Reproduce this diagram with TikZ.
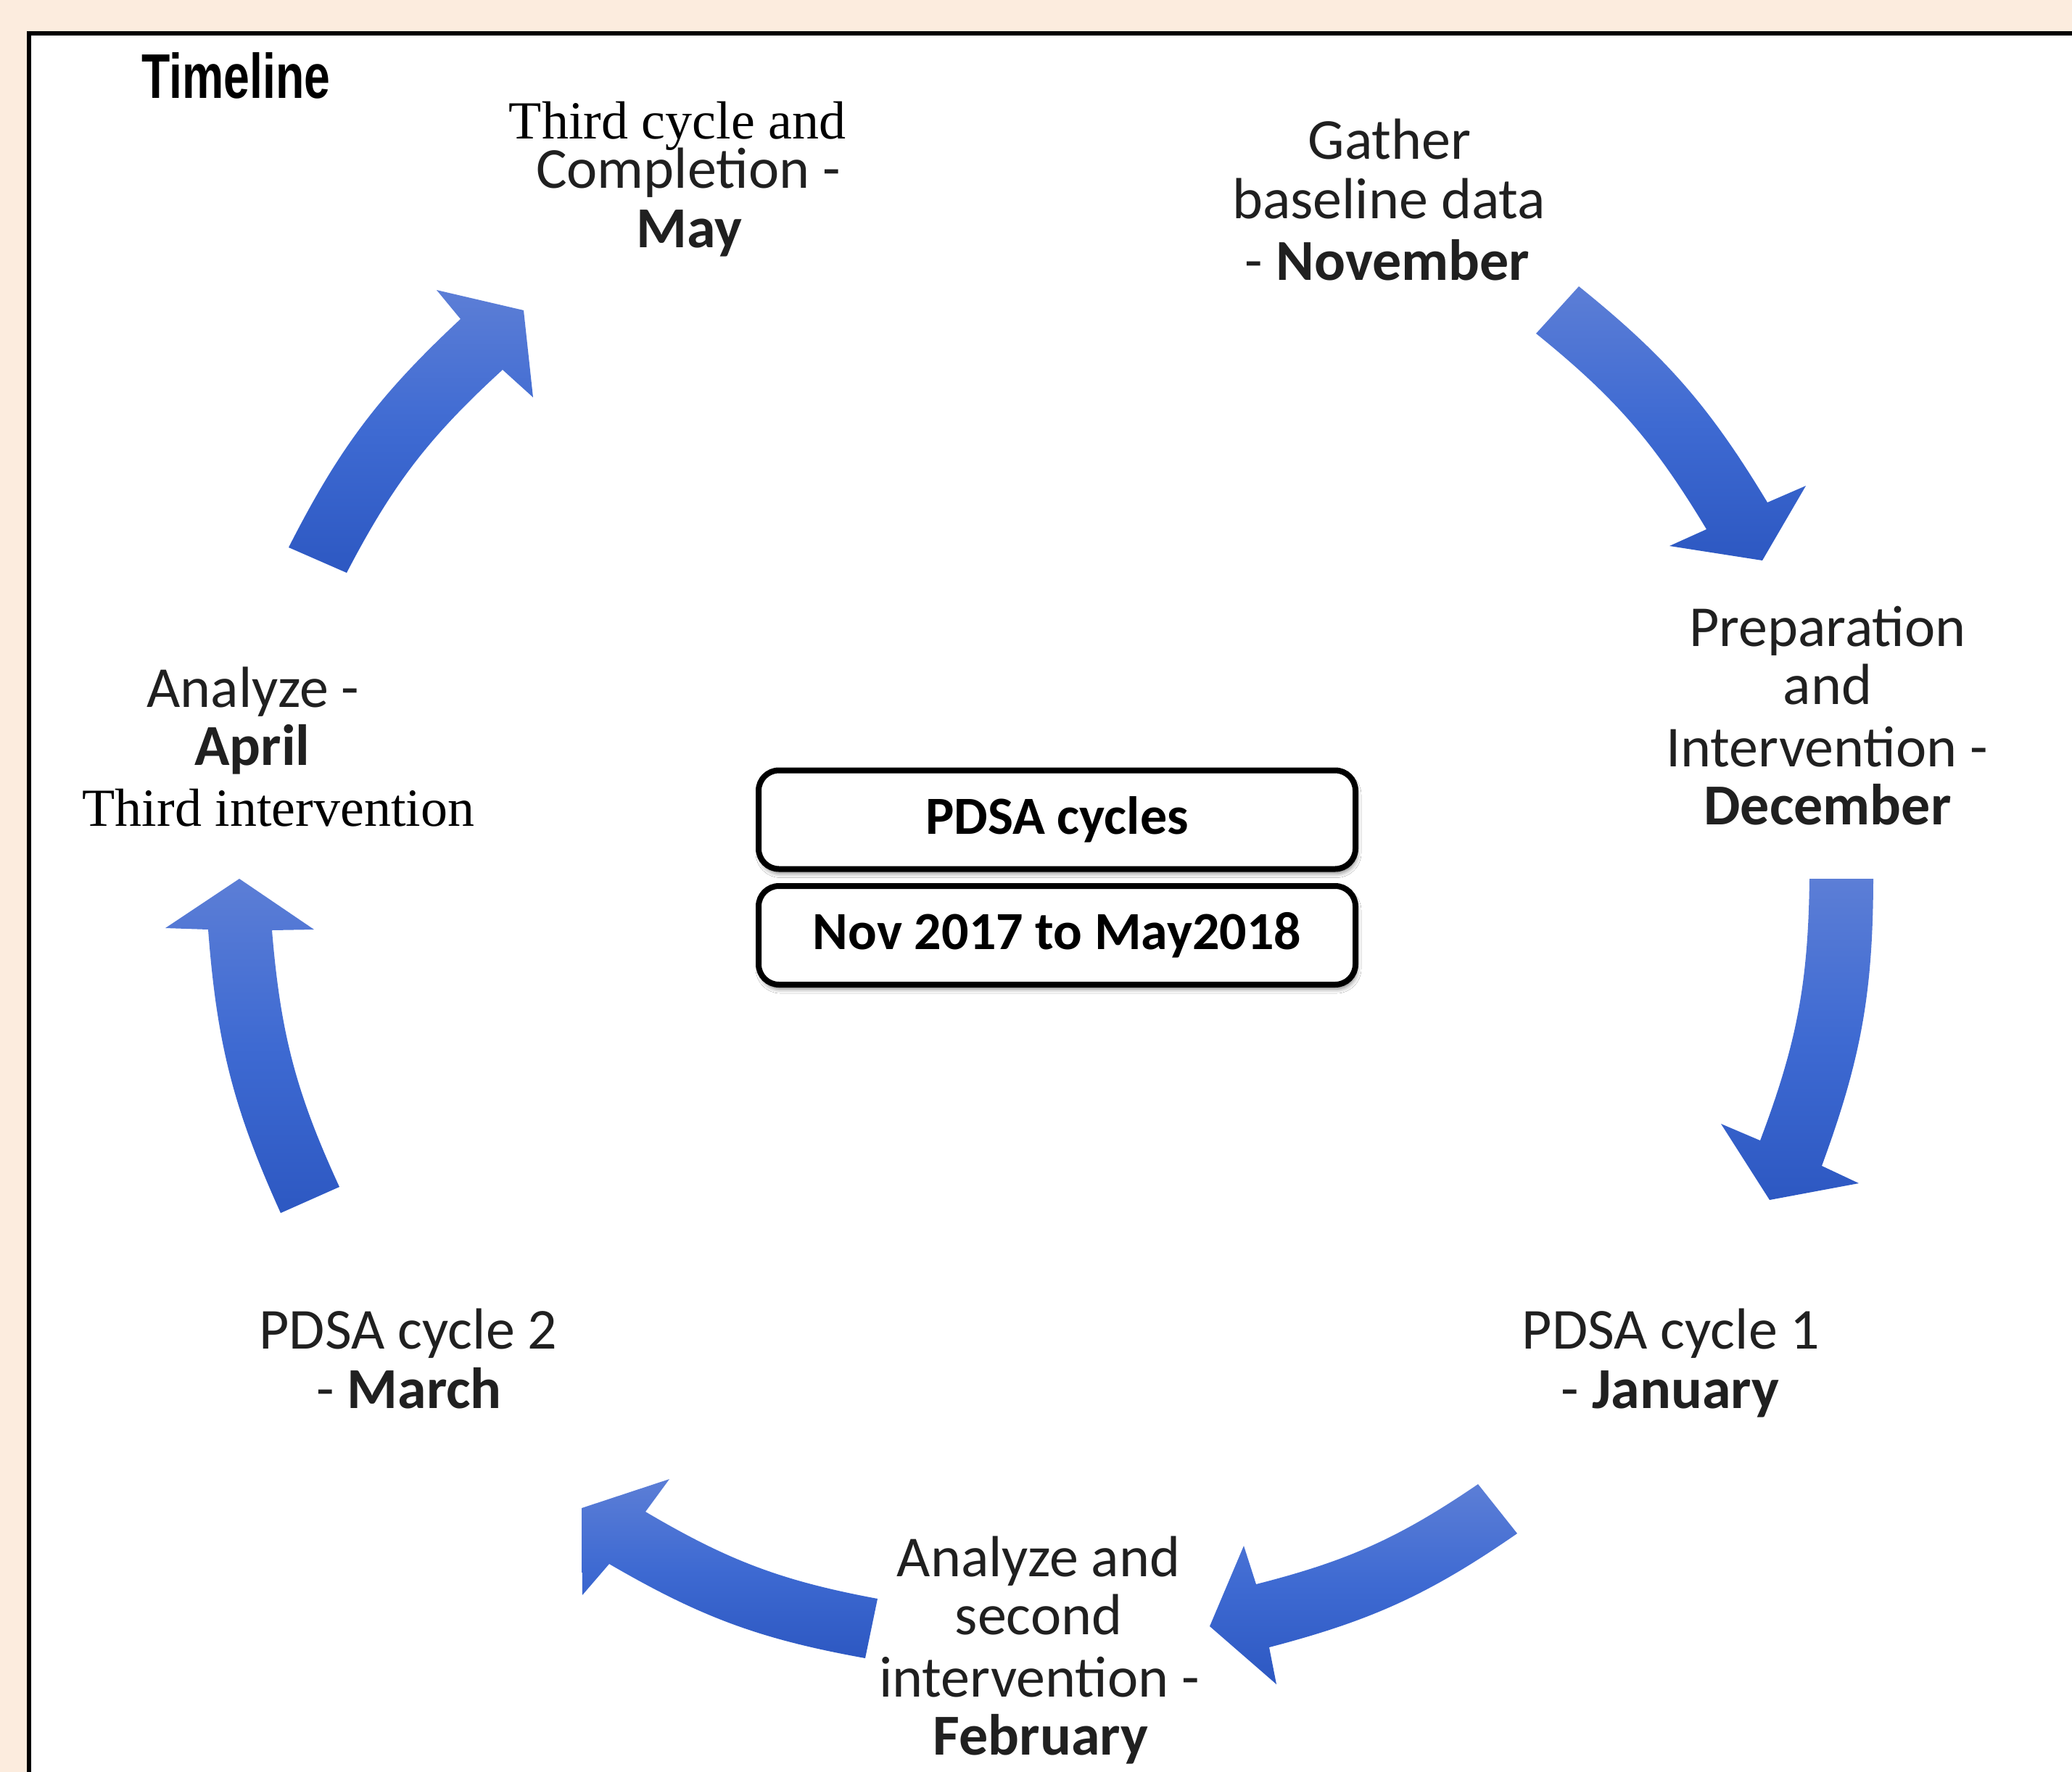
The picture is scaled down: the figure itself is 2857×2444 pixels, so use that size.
\documentclass[tikz,border=0pt]{standalone}
\usepackage{fontspec}
\usepackage{graphicx}
\setmainfont{Carlito}
\newfontfamily\timesf{Liberation Serif}
\newfontfamily\arialf{Liberation Sans}
\usetikzlibrary{shadows.blur}
\definecolor{bgpeach}{RGB}{252,236,222}
\definecolor{arrtop}{RGB}{92,126,214}
\definecolor{arrmid}{RGB}{62,106,210}
\definecolor{arrbot}{RGB}{45,88,194}
\definecolor{txt}{RGB}{32,32,32}
\begin{document}
\begin{tikzpicture}[x=1pt,y=-1pt,
  lbl/.style={anchor=base, inner sep=0, text=txt, font=\fontsize{80}{83}\selectfont},
  lblb/.style={anchor=base, inner sep=0, text=txt, font=\fontsize{80}{83}\selectfont\bfseries},
  tms/.style={anchor=base, inner sep=0, text=black, font=\timesf\fontsize{74}{80}\selectfont},
  arrowfill/.style={top color=arrtop, bottom color=arrbot, middle color=arrmid, draw=none},
  pbox/.style={draw=black, line width=8pt, rounded corners=28pt, fill=white,
    minimum width=823pt, minimum height=136pt, inner sep=0,
    font=\fontsize{74}{80}\selectfont\bfseries,
    blur shadow={shadow xshift=2pt, shadow yshift=-6pt, shadow blur radius=6pt, shadow opacity=50}},
]
\useasboundingbox (0,0) rectangle (2857,2444);
\clip (0,0) rectangle (2857,2444);
\fill[bgpeach] (0,0) rectangle (2857,2444);
\fill[white] (40,46) rectangle (2870,2460);
\draw[line width=6pt] (40,2460) -- (40,46) -- (2870,46);

% title
\node[anchor=base west, inner sep=0] (title) at (195,135)
  {\scalebox{0.74}[1]{\arialf\bfseries\fontsize{87}{87}\selectfont Timeline}};

% centre boxes
\node[pbox] (box1) at (1457.5,1130.5) {PDSA cycles};
\node[pbox] (box2) at (1457.5,1290) {Nov 2017 to May2018};

% labels
\node[tms] (may1) at (934,191) {Third cycle and};
\node[lbl] (may2) at (949,259) {Completion -};
\node[lblb] (may3) at (950,341) {May};

\node[lbl] (nov1) at (1916,219) {Gather};
\node[lbl] (nov2) at (1915,301) {baseline data};
\node[lbl] (nov3) at (1913,386) {- \textbf{November}};

\node[lbl] (dec1) at (2520,891) {Preparation};
\node[lbl] (dec2) at (2520,971) {and};
\node[lbl] (dec3) at (2519,1057) {Intervention -};
\node[lblb] (dec4) at (2520,1137) {December};

\node[lbl] (jan1) at (2304,1860) {PDSA cycle 1};
\node[lbl] (jan2) at (2303,1942) {- \textbf{January}};

\node[lbl] (feb1) at (1432,2174) {Analyze and};
\node[lbl] (feb2) at (1432,2254) {second};
\node[lbl] (feb3) at (1433,2340) {intervention -};
\node[lblb] (feb4) at (1435,2420) {February};

\node[lbl] (mar1) at (563,1860) {PDSA cycle 2};
\node[lbl] (mar2) at (564,1942) {- \textbf{March}};

\node[lbl] (apr1) at (349,975) {Analyze -};
\node[lblb] (apr2) at (348,1055) {April};
\node[tms] (apr3) at (384,1139) {Third intervention};

% arrow 1 (Nov -> Dec)
\coordinate (a1to) at (2177,395);
\coordinate (a1ti) at (2118,460);
\coordinate (a1no) at (2437,693);
\coordinate (a1bo) at (2490,670);
\coordinate (a1tp) at (2430,773);
\coordinate (a1bi) at (2302,753);
\coordinate (a1ni) at (2353,730);
\shade[arrowfill] (a1to) to[bend left=10] (a1no) -- (a1bo) -- (a1tp) -- (a1bi) -- (a1ni) to[bend right=10] (a1ti) -- cycle;

% arrow 2 (Dec -> Jan)
\coordinate (a2to) at (2583,1212);
\coordinate (a2ti) at (2495,1212);
\coordinate (a2no) at (2512,1608);
\coordinate (a2bo) at (2563,1632);
\coordinate (a2tp) at (2440,1655);
\coordinate (a2bi) at (2373,1550);
\coordinate (a2ni) at (2427,1573);
\shade[arrowfill] (a2to) to[bend left=10] (a2no) -- (a2bo) -- (a2tp) -- (a2bi) -- (a2ni) to[bend right=10] (a2ti) -- cycle;

% arrow 3 (Jan -> Feb)
\coordinate (a3to) at (2092,2115);
\coordinate (a3ti) at (2038,2047);
\coordinate (a3no) at (1750,2272);
\coordinate (a3bo) at (1760,2323);
\coordinate (a3tp) at (1668,2243);
\coordinate (a3bi) at (1715,2132);
\coordinate (a3ni) at (1732,2185);
\shade[arrowfill] (a3to) to[bend left=10] (a3no) -- (a3bo) -- (a3tp) -- (a3bi) -- (a3ni) to[bend right=10] (a3ti) -- cycle;

% arrow 4 (Feb -> Mar)
\coordinate (a4to) at (1193,2287);
\coordinate (a4ti) at (1210,2205);
\coordinate (a4no) at (840,2157);
\coordinate (a4bo) at (803,2200);
\coordinate (a4tp) at (802,2080);
\coordinate (a4bi) at (923,2040);
\coordinate (a4ni) at (890,2085);
\shade[arrowfill] (a4to) to[bend left=10] (a4no) -- (a4bo) -- (a4tp) -- (a4bi) -- (a4ni) to[bend right=10] (a4ti) -- cycle;

% arrow 5 (Mar -> Apr)
\coordinate (a5to) at (387,1673);
\coordinate (a5ti) at (468,1637);
\coordinate (a5no) at (287,1282);
\coordinate (a5bo) at (228,1280);
\coordinate (a5tp) at (330,1212);
\coordinate (a5bi) at (433,1282);
\coordinate (a5ni) at (375,1283);
\shade[arrowfill] (a5to) to[bend left=10] (a5no) -- (a5bo) -- (a5tp) -- (a5bi) -- (a5ni) to[bend right=10] (a5ti) -- cycle;

% arrow 6 (Apr -> May)
\coordinate (a6to) at (398,755);
\coordinate (a6ti) at (478,790);
\coordinate (a6no) at (635,440);
\coordinate (a6bo) at (602,400);
\coordinate (a6tp) at (722,428);
\coordinate (a6bi) at (735,548);
\coordinate (a6ni) at (693,510);
\shade[arrowfill] (a6to) to[bend left=10] (a6no) -- (a6bo) -- (a6tp) -- (a6bi) -- (a6ni) to[bend right=10] (a6ti) -- cycle;
\end{tikzpicture}
\end{document}
